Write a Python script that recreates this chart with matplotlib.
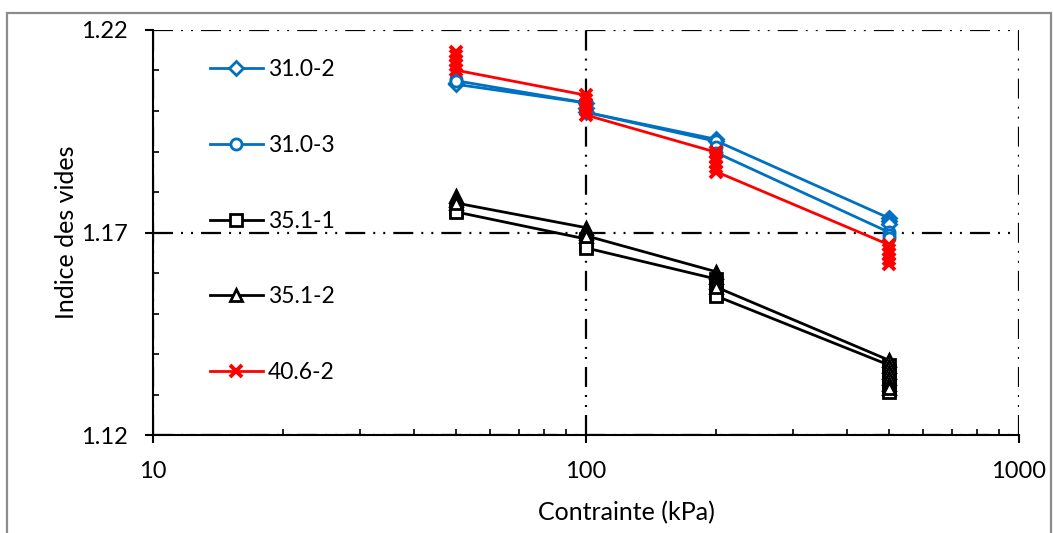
import numpy as np
import matplotlib
matplotlib.use('Agg')
import matplotlib.pyplot as plt
from matplotlib.patches import Rectangle
from matplotlib.ticker import FixedLocator, MultipleLocator, NullFormatter, LogLocator

plt.rcParams['font.family'] = ['Lato', 'DejaVu Sans']
plt.rcParams['lines.scale_dashes'] = False

BLUE = '#0070C0'
RED = '#FF0000'
BLACK = '#000000'

# readings per load step (several readings at each stress)
x_31_0_2 = [50, 50, 100, 100, 100, 200, 200, 500, 500, 500]
y_31_0_2 = [1.2070, 1.2066, 1.2020, 1.2008, 1.1997, 1.1930, 1.1926, 1.1736, 1.1728, 1.1722]

x_31_0_3 = [50, 50, 100, 100, 100, 200, 200, 200, 500, 500, 500]
y_31_0_3 = [1.2080, 1.2075, 1.2020, 1.2008, 1.1997, 1.1925, 1.1910, 1.1897, 1.1701, 1.1694, 1.1686]

x_35_1_1 = [50, 50, 100, 100, 100, 200, 200, 200, 200, 500, 500, 500, 500, 500, 500]
y_35_1_1 = [1.1755, 1.1751, 1.1684, 1.1672, 1.1662, 1.1585, 1.1567, 1.1550, 1.1543,
            1.1373, 1.1358, 1.1343, 1.1328, 1.1314, 1.1305]

x_35_1_2 = [50, 50, 50, 100, 100, 100, 200, 200, 200, 200, 500, 500, 500, 500, 500, 500]
y_35_1_2 = [1.1790, 1.1781, 1.1773, 1.1712, 1.1700, 1.1692, 1.1603, 1.1590, 1.1577, 1.1565,
            1.1385, 1.1370, 1.1355, 1.1340, 1.1326, 1.1316]

x_40_6_2 = [50, 50, 50, 50, 50, 100, 100, 100, 100, 100, 200, 200, 200, 200, 200,
            500, 500, 500, 500, 500]
y_40_6_2 = [1.2145, 1.2135, 1.2124, 1.2113, 1.2101, 1.2039, 1.2027, 1.2015, 1.2003, 1.1990,
            1.1898, 1.1886, 1.1874, 1.1862, 1.1850, 1.1670, 1.1658, 1.1646, 1.1634, 1.1622]

labels = ['31.0-2', '31.0-3', '35.1-1', '35.1-2', '40.6-2']

W, H = 1053, 533
fig = plt.figure(figsize=(W / 100, H / 100), dpi=100)
ax = fig.add_axes([153 / W, (H - 435) / H, 866 / W, 405 / H])

# outer chart border
fig.patches.append(Rectangle((7 / W, -0.05), (1051 - 7) / W, 1.05 - 13 / H,
                             transform=fig.transFigure, fill=False,
                             edgecolor='#8c8c8c', linewidth=1.6))

common = dict(linewidth=2, markersize=8, markeredgewidth=2, markerfacecolor='white')
ax.plot(x_31_0_2, y_31_0_2, color=BLUE, marker='D', label=labels[0],
        **{**common, 'markersize': 7})
ax.plot(x_31_0_3, y_31_0_3, color=BLUE, marker='o', label=labels[1], **common)
ax.plot(x_35_1_1, y_35_1_1, color=BLACK, marker='s', label=labels[2], **common)
ax.plot(x_35_1_2, y_35_1_2, color=BLACK, marker='^', label=labels[3], **common)
ax.plot(x_40_6_2, y_40_6_2, color=RED, marker='x', label=labels[4],
        linewidth=2, markersize=8, markeredgewidth=2.8)

ax.set_xscale('log')
ax.set_xlim(10, 1000)
ax.set_ylim(1.12, 1.22)

ax.xaxis.set_major_locator(FixedLocator([10, 100, 1000]))
ax.set_xticklabels(['10', '100', '1000'])
ax.xaxis.set_minor_locator(LogLocator(base=10, subs=np.arange(2, 10)))
ax.xaxis.set_minor_formatter(NullFormatter())
ax.yaxis.set_major_locator(FixedLocator([1.12, 1.17, 1.22]))
ax.set_yticklabels(['1.12', '1.17', '1.22'])
ax.yaxis.set_minor_locator(MultipleLocator(0.01))

ax.tick_params(axis='x', which='major', direction='out', length=6, width=1.5,
               labelsize=17, pad=13)
ax.tick_params(axis='y', which='major', direction='out', length=6, width=1.5,
               labelsize=17, pad=12)
ax.tick_params(which='minor', direction='in', length=4.5, width=1.2)

dashdotdot = (0, (14.4, 5.8, 1.4, 5.8, 1.4, 5.8))
ax.grid(True, which='major', color='black', linestyle=dashdotdot, linewidth=1.6)
ax.set_axisbelow(True)

for side in ['top', 'right']:
    ax.spines[side].set_visible(False)
for side in ['left', 'bottom']:
    ax.spines[side].set_linewidth(1.5)

ax.set_xlabel('Contrainte (kPa)', fontsize=18)
ax.xaxis.label.set_va('center')
ax.xaxis.set_label_coords((626 - 153) / 866, -(513 - 435) / 405)
ax.set_ylabel('Indice des vides', fontsize=18)
ax.yaxis.label.set_va('center')
ax.yaxis.set_label_coords(-(153 - 66) / 866, 0.5)

leg = ax.legend(loc='upper left', bbox_to_anchor=((210 - 153) / 866, 1 - (59 - 30) / 405),
                frameon=False, fontsize=16.5, handlelength=2.3, handletextpad=0.22,
                labelspacing=2.39, borderpad=0, borderaxespad=0)

fig.savefig('out.png', dpi=100)
